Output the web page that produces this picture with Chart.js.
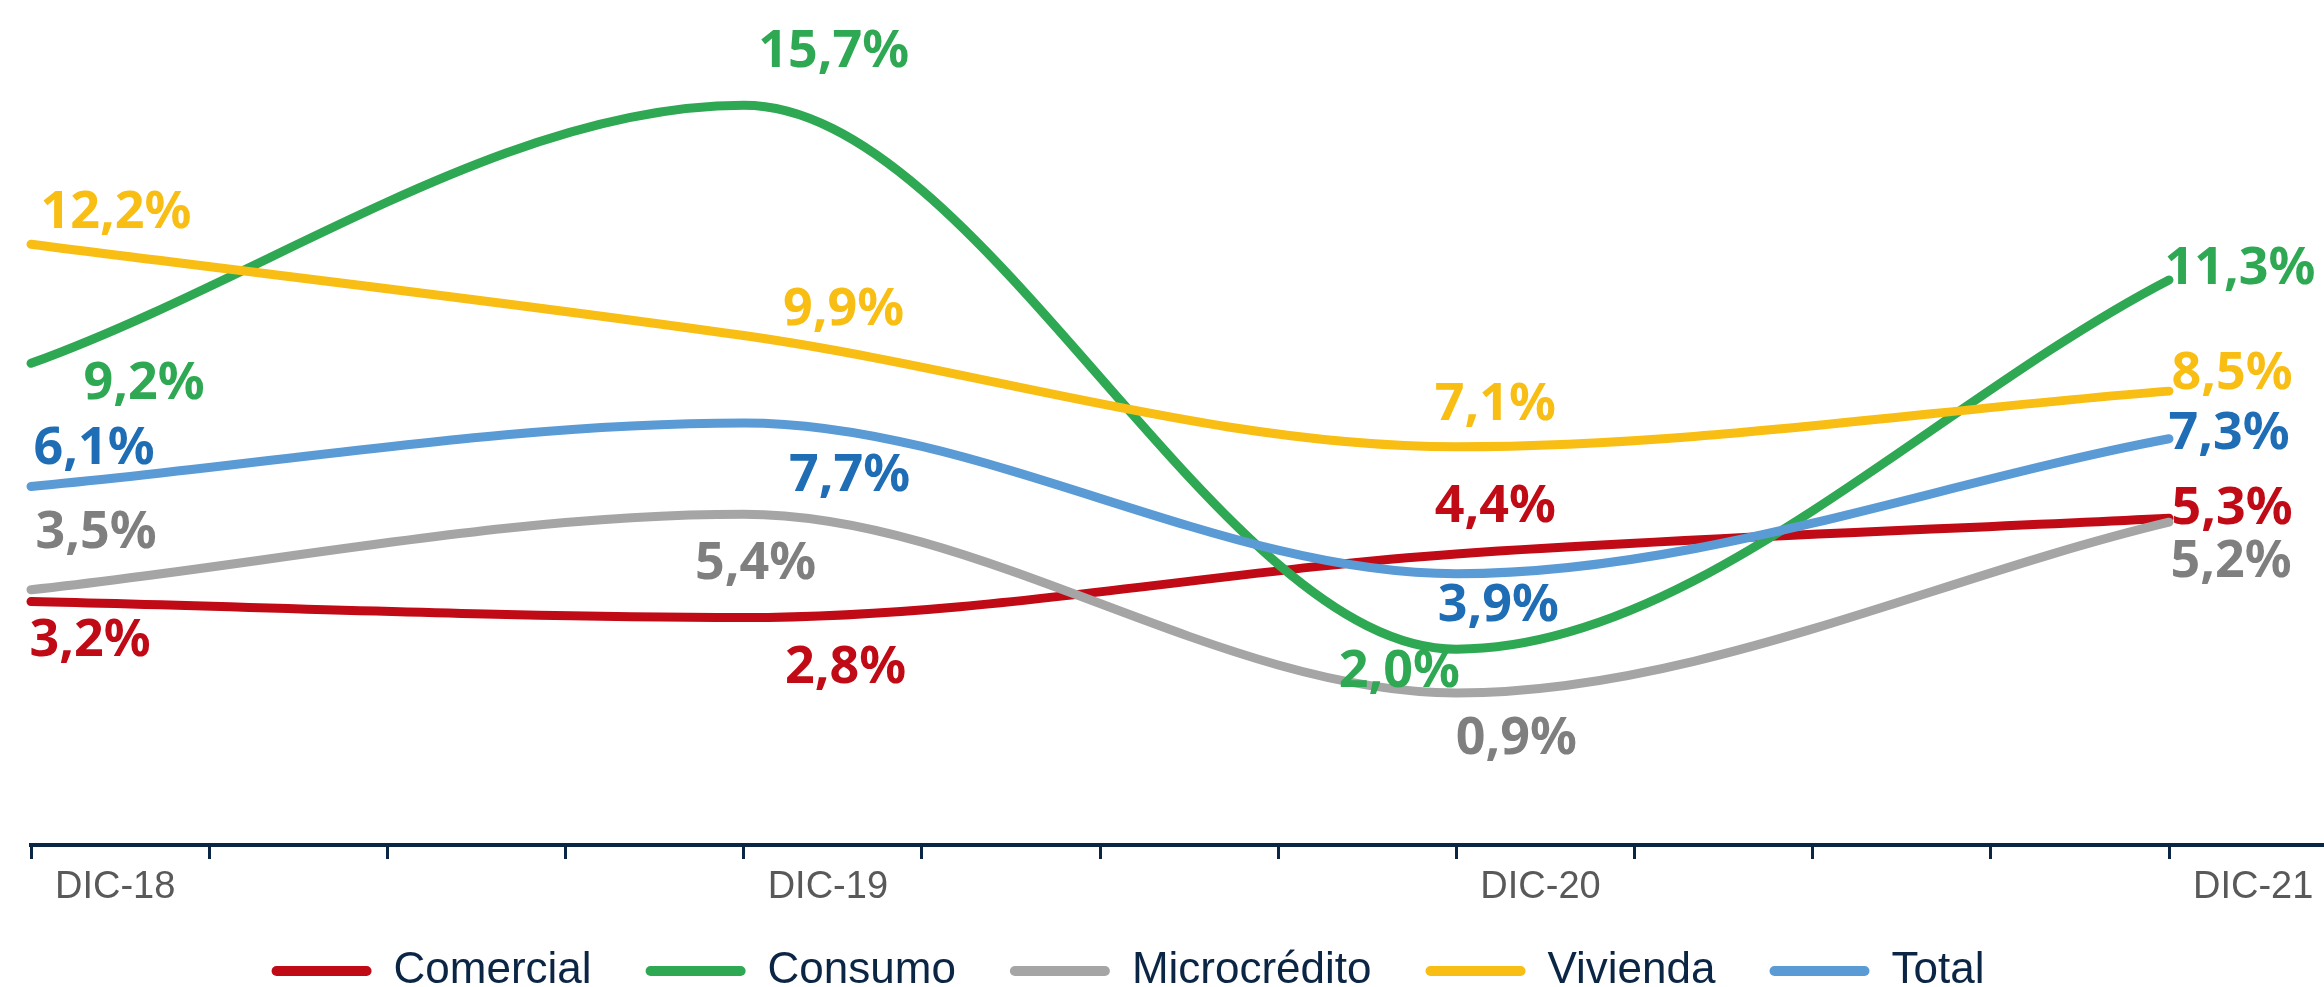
<!DOCTYPE html>
<html>
<head>
<meta charset="utf-8">
<script src="https://cdn.jsdelivr.net/npm/chart.js@4/dist/chart.umd.min.js"></script>
<style>
  html, body { margin: 0; padding: 0; background: #fff; }
  #wrap { width: 2324px; height: 987px; }
</style>
</head>
<body>
<div id="wrap"><canvas id="chart"></canvas></div>
<script>
// periods (quarter index since DIC-18) and tick labels
const periods = ['DIC-18', 'DIC-19', 'DIC-20', 'DIC-21'];
const quarterIndex = [0, 4, 8, 12];

// series values (%)
const comercial = [3.2, 2.8, 4.4, 5.3];
const consumo = [9.2, 15.7, 2.0, 11.3];
const microcredito = [3.5, 5.4, 0.9, 5.2];
const vivienda = [12.2, 9.9, 7.1, 8.5];
const total = [6.1, 7.7, 3.9, 7.3];

const navy = '#0b2545';

// label placement relative to each point (px)
const labelOffsets = {
  'Comercial':    [[59, 36], [102, 47], [39, -50], [63, -13]],
  'Consumo':      [[113, 17], [90, -57], [-57, 19], [71, -14]],
  'Microcrédito': [[65, -60], [12, 46], [60, 43], [62, 36]],
  'Vivienda':     [[85, -35], [100, -29], [39, -45], [63, -21]],
  'Total':        [[63, -41], [106, 50], [42, 29], [60, -8]]
};

function toPoints(values) {
  return values.map((v, i) => ({ x: quarterIndex[i], y: v }));
}

function series(label, values, line, text, order) {
  return {
    label: label,
    data: toPoints(values),
    borderColor: line,
    backgroundColor: line,
    labelColor: text,
    borderWidth: 9,
    borderCapStyle: 'round',
    borderJoinStyle: 'round',
    pointRadius: 0,
    cubicInterpolationMode: 'monotone',
    fill: false,
    clip: false,
    order: order
  };
}

const valueLabels = {
  id: 'valueLabels',
  afterDatasetsDraw(chart) {
    const ctx = chart.ctx;
    ctx.save();
    ctx.font = '700 52px "Noto Sans"';
    ctx.textAlign = 'center';
    ctx.textBaseline = 'alphabetic';
    chart.data.datasets.forEach((ds, i) => {
      const meta = chart.getDatasetMeta(i);
      const offs = labelOffsets[ds.label];
      ctx.fillStyle = ds.labelColor;
      meta.data.forEach((pt, j) => {
        const txt = ds.data[j].y.toFixed(1).replace('.', ',') + '%';
        ctx.fillText(txt, pt.x + offs[j][0], pt.y + offs[j][1] + 18.5);
      });
    });
    ctx.restore();
  }
};

const axisTweaks = {
  id: 'axisTweaks',
  afterLayout(chart) {
    const lg = chart.legend;
    lg.left += 28; lg.right += 28;
    lg.top += 16; lg.bottom += 16;
    // let the tick labels draw below the short axis box
    chart.scales.x.bottom = chart.scales.x.top + 80;
  },
  afterDraw(chart) {
    // axis line runs on to the right edge
    const ctx = chart.ctx;
    const y = chart.scales.x.top;
    ctx.save();
    ctx.strokeStyle = navy;
    ctx.lineWidth = 4;
    ctx.beginPath();
    ctx.moveTo(chart.chartArea.right - 2, y);
    ctx.lineTo(chart.width, y);
    ctx.stroke();
    ctx.restore();
  }
};

new Chart(document.getElementById('chart'), {
  type: 'line',
  data: {
    datasets: [
      series('Comercial', comercial, '#c00a16', '#c00a16', 5),
      series('Consumo', consumo, '#2ea852', '#2ea852', 4),
      series('Microcrédito', microcredito, '#a5a5a5', '#7f7f7f', 3),
      series('Vivienda', vivienda, '#f8be14', '#f8be14', 2),
      series('Total', total, '#5b9bd5', '#1f6db5', 1)
    ]
  },
  options: {
    responsive: true,
    maintainAspectRatio: false,
    animation: false,
    layout: { padding: { left: 31, right: 155, top: 0, bottom: 0 } },
    plugins: {
      tooltip: { enabled: false },
      legend: {
        position: 'bottom',
        labels: {
          boxWidth: 100,
          boxHeight: 10,
          useBorderRadius: true,
          borderRadius: 5,
          padding: 54,
          color: navy,
          font: { family: 'Liberation Sans', size: 44 },
          sort: (a, b) => a.datasetIndex - b.datasetIndex,
          generateLabels: (chart) => Chart.defaults.plugins.legend.labels.generateLabels(chart)
            .map(l => Object.assign(l, { lineWidth: 0, fillStyle: l.strokeStyle }))
        }
      }
    },
    scales: {
      x: {
        type: 'linear',
        min: 0,
        max: 12,
        afterFit: (scale) => { scale.height = 34; },
        border: { display: true, color: navy, width: 4 },
        grid: { drawOnChartArea: false, drawTicks: true, tickLength: 14, color: navy, lineWidth: 3 },
        ticks: {
          stepSize: 1,
          autoSkip: false,
          maxRotation: 0,
          align: 'start',
          labelOffset: 24,
          padding: 6,
          color: '#595959',
          font: { family: 'Liberation Sans', size: 38 },
          callback: (v) => (v % 4 === 0 ? periods[v / 4] : '')
        }
      },
      y: {
        display: false,
        min: -2.93,
        max: 18.35
      }
    }
  },
  plugins: [valueLabels, axisTweaks]
});
</script>
</body>
</html>
